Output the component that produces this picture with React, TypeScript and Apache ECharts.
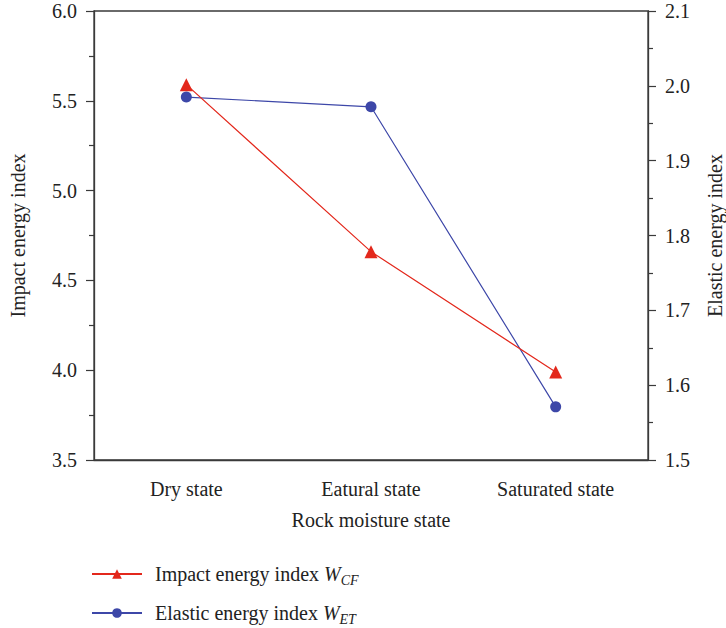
import React, { useEffect, useRef } from "react";
import * as echarts from "echarts";

const categories = ["Dry state", "Eatural state", "Saturated state"];
const impactValues = [5.59, 4.66, 3.99];
const elasticValues = [1.985, 1.972, 1.571];
const leftTicks = { min: 3.5, max: 6.0, interval: 0.5 };
const rightTicks = { min: 1.5, max: 2.1, interval: 0.1 };

const RED = "#e3281c";
const BLUE = "#3d47a8";
const AXIS = "#3a3a3a";
const FONT = "Liberation Serif";
const FS = 20;

export default function App() {
  const ref = useRef<HTMLDivElement>(null);
  useEffect(() => {
    if (!ref.current) return;
    const chart = echarts.init(ref.current, undefined, { renderer: "svg" });
    const axisCommon = {
      axisLine: { show: true, lineStyle: { color: AXIS, width: 1.3 } },
      axisTick: { show: true, length: 8, lineStyle: { color: AXIS, width: 1.2 } },
      minorTick: { show: true, splitNumber: 2, length: 5, lineStyle: { color: AXIS, width: 1.2 } },
      splitLine: { show: false },
      axisLabel: { color: "#222", fontFamily: FONT, fontSize: FS, margin: 17, formatter: (v: number) => v.toFixed(1) },
      nameTextStyle: { color: "#222", fontFamily: FONT, fontSize: FS },
      nameLocation: "middle" as const,
    };
    const subRich = {
      a: { fontFamily: FONT, fontSize: FS, color: "#222" },
      w: { fontFamily: FONT, fontSize: FS, fontStyle: "italic", color: "#222" },
      s: { fontFamily: FONT, fontSize: 14, fontStyle: "italic", color: "#222", padding: [13, 0, 0, 0] },
    };
    const legendCommon = {
      orient: "horizontal" as const,
      left: 86,
      itemWidth: 50,
      itemHeight: 12,
      textStyle: { fontFamily: FONT, fontSize: FS, color: "#222", padding: [0, 0, 0, 8], rich: subRich },
      formatter: (name: string) =>
        name === "impact"
          ? "{a|Impact energy index }{w|W}{s|CF}"
          : "{a|Elastic energy index }{w|W}{s|ET}",
    };
    chart.setOption({
      animation: false,
      backgroundColor: "#ffffff",
      grid: {
        left: 94, right: 78, top: 11, bottom: 168,
        outerBoundsMode: "none",
        containLabel: false,
        show: true, borderColor: AXIS, borderWidth: 1.3, backgroundColor: "transparent",
      },
      xAxis: {
        type: "category",
        data: categories,
        boundaryGap: true,
        name: "Rock moisture state",
        nameLocation: "middle",
        nameGap: 50,
        nameTextStyle: { color: "#222", fontFamily: FONT, fontSize: FS },
        axisLine: { lineStyle: { color: AXIS, width: 1.3 } },
        axisTick: { alignWithLabel: true, length: 8, lineStyle: { color: AXIS, width: 1.2 } },
        axisLabel: { color: "#222", fontFamily: FONT, fontSize: FS, margin: 19 },
      },
      yAxis: [
        {
          ...axisCommon,
          type: "value",
          position: "left",
          min: leftTicks.min,
          max: leftTicks.max,
          interval: leftTicks.interval,
          name: "Impact energy index",
          nameGap: 66,
        },
        {
          ...axisCommon,
          type: "value",
          position: "right",
          min: rightTicks.min,
          max: rightTicks.max,
          interval: rightTicks.interval,
          name: "Elastic energy index",
          nameGap: 57,
        },
      ],
      legend: [
        { ...legendCommon, top: 559, data: ["impact"] },
        { ...legendCommon, top: 598, data: ["elastic"] },
      ],
      series: [
        {
          name: "impact",
          type: "line",
          yAxisIndex: 0,
          data: impactValues,
          symbol: "triangle",
          symbolSize: 13,
          itemStyle: { color: RED },
          lineStyle: { color: RED, width: 1.2 },
          z: 3,
        },
        {
          name: "elastic",
          type: "line",
          yAxisIndex: 1,
          data: elasticValues,
          symbol: "circle",
          symbolSize: 11,
          itemStyle: { color: BLUE },
          lineStyle: { color: BLUE, width: 1.2 },
          z: 2,
        },
      ],
    });
    return () => chart.dispose();
  }, []);
  return <div ref={ref} style={{ width: 726, height: 628, position: "absolute", left: 0, top: 0 }} />;
}
